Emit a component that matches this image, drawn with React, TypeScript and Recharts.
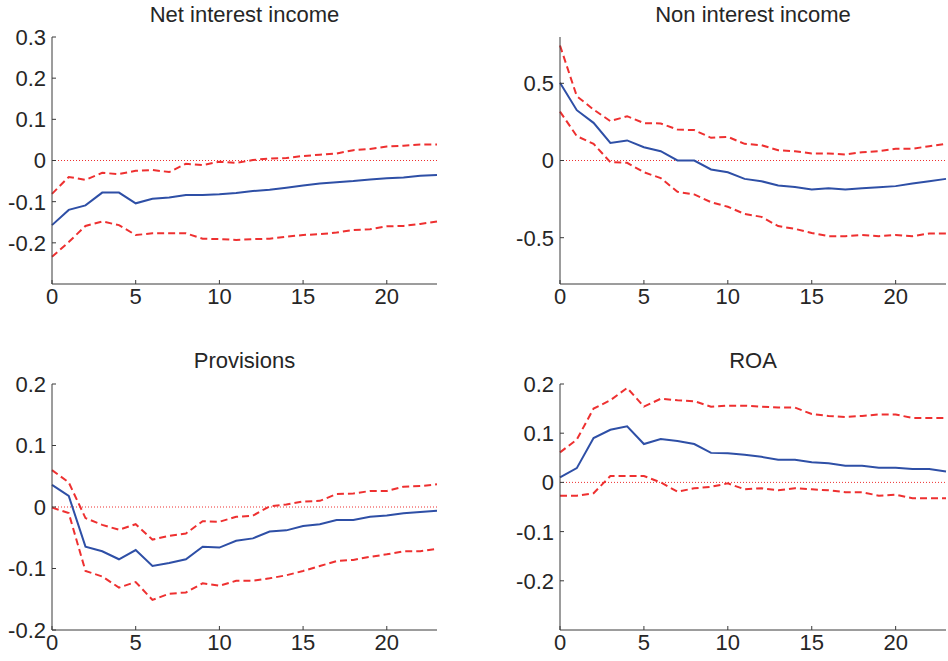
import React from 'react';
import { LineChart, Line, XAxis, YAxis, ReferenceLine } from 'recharts';

const horizons = [0, 1, 2, 3, 4, 5, 6, 7, 8, 9, 10, 11, 12, 13, 14, 15, 16, 17, 18, 19, 20, 21, 22, 23];
const xTicks = [0, 5, 10, 15, 20];

// Net interest income
const niiMid = [-0.157, -0.12, -0.109, -0.078, -0.078, -0.104, -0.093, -0.09, -0.084, -0.084, -0.082, -0.079, -0.074, -0.071, -0.066, -0.061, -0.056, -0.053, -0.05, -0.046, -0.043, -0.041, -0.037, -0.035];
const niiUp = [-0.081, -0.04, -0.047, -0.03, -0.033, -0.025, -0.023, -0.028, -0.008, -0.011, -0.003, -0.006, 0.001, 0.005, 0.006, 0.011, 0.014, 0.017, 0.025, 0.028, 0.034, 0.036, 0.039, 0.039];
const niiLo = [-0.234, -0.198, -0.159, -0.148, -0.157, -0.181, -0.177, -0.177, -0.177, -0.19, -0.191, -0.193, -0.191, -0.19, -0.185, -0.181, -0.179, -0.175, -0.169, -0.167, -0.16, -0.159, -0.154, -0.148];

// Non interest income
const noniiMid = [0.503, 0.326, 0.244, 0.114, 0.13, 0.086, 0.06, 0, 0, -0.058, -0.076, -0.119, -0.134, -0.162, -0.171, -0.188, -0.179, -0.188, -0.179, -0.173, -0.166, -0.149, -0.134, -0.119];
const noniiUp = [0.745, 0.417, 0.33, 0.255, 0.287, 0.242, 0.24, 0.2, 0.197, 0.147, 0.153, 0.108, 0.099, 0.067, 0.06, 0.045, 0.045, 0.039, 0.054, 0.06, 0.076, 0.076, 0.093, 0.108];
const noniiLo = [0.317, 0.158, 0.108, -0.011, -0.015, -0.076, -0.114, -0.203, -0.22, -0.27, -0.3, -0.346, -0.365, -0.425, -0.443, -0.469, -0.49, -0.49, -0.482, -0.49, -0.482, -0.49, -0.473, -0.473];

// Provisions
const provMid = [0.036, 0.018, -0.0645, -0.072, -0.085, -0.07, -0.096, -0.091, -0.085, -0.0645, -0.066, -0.055, -0.051, -0.04, -0.038, -0.031, -0.028, -0.021, -0.021, -0.016, -0.014, -0.01, -0.008, -0.006];
const provUp = [0.06, 0.04, -0.018, -0.029, -0.037, -0.028, -0.053, -0.047, -0.043, -0.023, -0.024, -0.016, -0.014, 0.001, 0.004, 0.009, 0.01, 0.021, 0.022, 0.026, 0.026, 0.033, 0.034, 0.037];
const provLo = [-0.001, -0.01, -0.104, -0.113, -0.131, -0.122, -0.151, -0.141, -0.139, -0.124, -0.128, -0.12, -0.12, -0.116, -0.111, -0.104, -0.096, -0.088, -0.086, -0.081, -0.077, -0.072, -0.072, -0.068];

// ROA
const roaMid = [0.01, 0.029, 0.09, 0.107, 0.114, 0.078, 0.088, 0.084, 0.078, 0.06, 0.059, 0.056, 0.052, 0.046, 0.046, 0.041, 0.039, 0.034, 0.034, 0.03, 0.03, 0.027, 0.027, 0.022];
const roaUp = [0.061, 0.087, 0.15, 0.167, 0.192, 0.154, 0.17, 0.167, 0.165, 0.154, 0.156, 0.156, 0.154, 0.152, 0.152, 0.139, 0.135, 0.133, 0.135, 0.138, 0.138, 0.131, 0.131, 0.131];
const roaLo = [-0.027, -0.027, -0.022, 0.013, 0.013, 0.013, 0, -0.019, -0.012, -0.009, -0.002, -0.014, -0.012, -0.016, -0.012, -0.014, -0.016, -0.02, -0.02, -0.027, -0.025, -0.032, -0.032, -0.032];

const FONT = '"Liberation Sans", Arial, Helvetica, sans-serif';
const FS = 22;
const AXIS = '#3a3a3a';
const TEXT = '#262626';
const BLUE = '#2e4fa6';
const RED = '#ee3030';

const Y_W = 52;
const X_H = 34;
const M_TOP = 14;
const M_RIGHT = 1;

function XTick(props: any) {
  const { x, y, payload } = props;
  return (
    <text x={x} y={y} dy="0.72em" textAnchor="middle" fill={TEXT} fontSize={FS} fontFamily={FONT}>
      {payload.value}
    </text>
  );
}

function YTick(props: any) {
  const { x, y, payload } = props;
  return (
    <text x={x} y={y} dy="0.36em" textAnchor="end" fill={TEXT} fontSize={FS} fontFamily={FONT}>
      {payload.value}
    </text>
  );
}

type PanelProps = {
  title: string;
  mid: number[];
  up: number[];
  lo: number[];
  yDomain: [number, number];
  yTicks: number[];
  left: number;
  top: number;
  w: number;
  h: number;
  titleTop: number;
};

function Panel({ title, mid, up, lo, yDomain, yTicks, left, top, w, h, titleTop }: PanelProps) {
  const data = horizons.map((t, i) => ({ t, mid: mid[i], up: up[i], lo: lo[i] }));
  return (
    <>
      <div
        style={{
          position: 'absolute',
          left: left,
          width: w,
          top: titleTop,
          textAlign: 'center',
          fontFamily: FONT,
          fontSize: FS,
          color: TEXT,
          lineHeight: '24px',
        }}
      >
        {title}
      </div>
      <div style={{ position: 'absolute', left: left - Y_W, top: top - M_TOP }}>
        <LineChart
          width={w + Y_W + M_RIGHT}
          height={h + M_TOP + X_H}
          data={data}
          margin={{ top: M_TOP, right: M_RIGHT, left: 0, bottom: 0 }}
        >
          <XAxis
            dataKey="t"
            type="number"
            domain={[0, 23]}
            ticks={xTicks}
            height={X_H}
            stroke={AXIS}
            tickSize={-4}
            tickMargin={8}
            tick={<XTick />}
          />
          <YAxis
            type="number"
            domain={yDomain}
            ticks={yTicks}
            width={Y_W}
            stroke={AXIS}
            tickSize={-4}
            tickMargin={10}
            interval={0}
            tick={<YTick />}
          />
          <ReferenceLine y={0} stroke={RED} strokeWidth={1} strokeDasharray="1 2" />
          <Line dataKey="up" stroke={RED} strokeWidth={2} strokeDasharray="7 4" dot={false} isAnimationActive={false} />
          <Line dataKey="lo" stroke={RED} strokeWidth={2} strokeDasharray="7 4" dot={false} isAnimationActive={false} />
          <Line dataKey="mid" stroke={BLUE} strokeWidth={2} dot={false} isAnimationActive={false} />
        </LineChart>
      </div>
    </>
  );
}

export default function App() {
  return (
    <div
      style={{
        position: 'absolute',
        left: 0,
        top: 0,
        width: 948,
        height: 661,
        overflow: 'hidden',
        background: '#fff',
      }}
    >
      <Panel
        title="Net interest income"
        mid={niiMid}
        up={niiUp}
        lo={niiLo}
        yDomain={[-0.3, 0.3]}
        yTicks={[-0.2, -0.1, 0, 0.1, 0.2, 0.3]}
        left={52}
        top={37}
        w={385}
        h={247}
        titleTop={3}
      />
      <Panel
        title="Non interest income"
        mid={noniiMid}
        up={noniiUp}
        lo={noniiLo}
        yDomain={[-0.8, 0.8]}
        yTicks={[-0.5, 0, 0.5]}
        left={560}
        top={37}
        w={386}
        h={247}
        titleTop={3}
      />
      <Panel
        title="Provisions"
        mid={provMid}
        up={provUp}
        lo={provLo}
        yDomain={[-0.2, 0.2]}
        yTicks={[-0.2, -0.1, 0, 0.1, 0.2]}
        left={52}
        top={384}
        w={385}
        h={246}
        titleTop={349}
      />
      <Panel
        title="ROA"
        mid={roaMid}
        up={roaUp}
        lo={roaLo}
        yDomain={[-0.3, 0.2]}
        yTicks={[-0.2, -0.1, 0, 0.1, 0.2]}
        left={560}
        top={384}
        w={386}
        h={246}
        titleTop={349}
      />
    </div>
  );
}
